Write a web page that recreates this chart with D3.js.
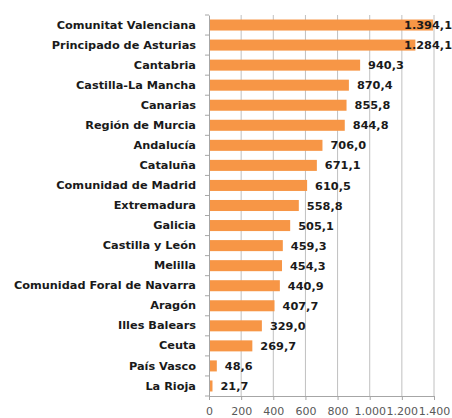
<!DOCTYPE html>
<html>
<head>
<meta charset="utf-8">
<script src="https://cdn.jsdelivr.net/npm/d3@7"></script>
<style>
  body { margin: 0; background: #fff; }
  text { font-family: "DejaVu Sans", sans-serif; }
</style>
</head>
<body>
<div id="chart"></div>
<script>
var regions = ["Comunitat Valenciana", "Principado de Asturias", "Cantabria", "Castilla-La Mancha",
  "Canarias", "Región de Murcia", "Andalucía", "Cataluña", "Comunidad de Madrid", "Extremadura",
  "Galicia", "Castilla y León", "Melilla", "Comunidad Foral de Navarra", "Aragón", "Illes Balears",
  "Ceuta", "País Vasco", "La Rioja"];
var values = [1394.1, 1284.1, 940.3, 870.4, 855.8, 844.8, 706.0, 671.1, 610.5, 558.8,
  505.1, 459.3, 454.3, 440.9, 407.7, 329.0, 269.7, 48.6, 21.7];
var xTicks = [0, 200, 400, 600, 800, 1000, 1200, 1400];

var W = 452, H = 418;
var margin = { top: 15, right: 18, bottom: 22, left: 209 },
    width = W - margin.left - margin.right,
    height = H - margin.top - margin.bottom;

var fmt = function (v) {
  var s = v.toFixed(1).replace(".", ",");
  var parts = s.split(",");
  parts[0] = parts[0].replace(/\B(?=(\d{3})+(?!\d))/g, ".");
  return parts.join(",");
};

var xscale = d3.scaleLinear().domain([0, 1400]).range([0, width]);
var yscale = d3.scaleBand().domain(regions).range([0, height]).paddingInner(0.45).paddingOuter(0.225);

var svg = d3.select("#chart").append("svg")
    .attr("width", W)
    .attr("height", H)
    .append("g")
    .attr("transform", "translate(" + margin.left + "," + margin.top + ")");

// gridlines
svg.selectAll(".grid")
    .data(xTicks.slice(1))
    .enter().append("line")
    .attr("x1", function (d) { return xscale(d); })
    .attr("x2", function (d) { return xscale(d); })
    .attr("y1", 0)
    .attr("y2", height)
    .attr("stroke", "#c0c0c0")
    .attr("stroke-width", 1);

// bars
svg.selectAll(".bar")
    .data(values)
    .enter().append("rect")
    .attr("x", 0)
    .attr("y", function (d, i) { return yscale(regions[i]); })
    .attr("width", function (d) { return xscale(d); })
    .attr("height", yscale.bandwidth())
    .attr("fill", "#f79646");

// x axis
var xAxis = svg.append("g")
    .attr("transform", "translate(0," + height + ")")
    .call(d3.axisBottom(xscale).tickValues(xTicks).tickSize(4).tickFormat(function (d) { return fmt(d).replace(",0", ""); }));
xAxis.select(".domain").attr("stroke", "#a6a6a6");
xAxis.selectAll(".tick line").attr("stroke", "#a6a6a6");
xAxis.selectAll(".tick text")
    .attr("dy", "1.05em")
    .style("font-size", "11px")
    .attr("fill", "#595959");

// y axis
var yAxis = svg.append("g")
    .call(d3.axisLeft(yscale).tickSize(0).tickPadding(13));
yAxis.select(".domain").attr("stroke", "#a6a6a6");
yAxis.selectAll(".tick text")
    .style("font-size", "11.3px")
    .style("font-weight", "bold")
    .attr("fill", "#1a1a1a");

// category boundary ticks
var bounds = d3.range(regions.length + 1).map(function (i) { return i * height / regions.length; });
svg.selectAll(".ytick")
    .data(bounds)
    .enter().append("line")
    .attr("x1", -4).attr("x2", 0)
    .attr("y1", function (d) { return d; })
    .attr("y2", function (d) { return d; })
    .attr("stroke", "#a6a6a6");

// value labels
svg.selectAll(".val")
    .data(values)
    .enter().append("text")
    .attr("class", "val")
    .attr("y", function (d, i) { return yscale(regions[i]) + yscale.bandwidth() / 2; })
    .attr("dy", "0.36em")
    .style("font-size", "11.3px")
    .style("font-weight", "bold")
    .attr("fill", "#1a1a1a")
    .text(function (d) { return fmt(d); })
    .attr("x", function (d) {
      var w = this.getComputedTextLength();
      return Math.min(xscale(d) + 8, W - margin.left - w);
    });
</script>
</body>
</html>
